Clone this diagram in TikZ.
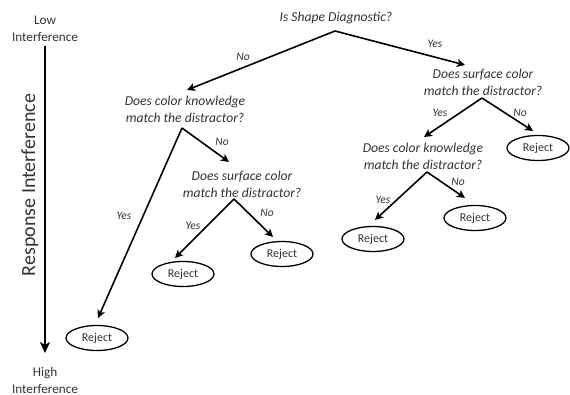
\documentclass[tikz,border=0pt]{standalone}
\usepackage{fontspec}
\setmainfont{Carlito}
\usetikzlibrary{arrows.meta,shapes.geometric}
\begin{document}
\begin{tikzpicture}[x=1pt,y=-1pt,
  q/.style={font=\fontsize{13.6}{17}\selectfont\itshape, align=center, inner sep=0pt, text=black!80},
  lbl/.style={font=\fontsize{11.5}{13}\selectfont\itshape, inner sep=0pt, text=black!80},
  rej/.style={draw, ellipse, line width=1.3pt, minimum width=62pt, minimum height=25pt, inner sep=0pt, font=\fontsize{12}{14}\selectfont, text=black!80},
  side/.style={font=\fontsize{13.2}{17}\selectfont, align=center, inner sep=0pt, text=black!80},
  arr/.style={line width=1.6pt, -{Stealth[length=8pt,width=8pt,inset=2pt]}}]
\useasboundingbox (0,0) rectangle (570,395);

% side scale
\node[side] (low) at (45,29) {Low\\Interference};
\node[side] (high) at (45,380) {High\\Interference};
\coordinate (axTop) at (45,46);
\coordinate (axBot) at (45,353);
\draw[line width=2.6pt, -{Stealth[length=11pt,width=10pt,inset=3pt]}] (axTop) -- (axBot);
\node[rotate=90, font=\fontsize{20}{22}\selectfont, inner sep=0pt, text=black!80] (resp) at (30,185) {Response Interference};

% root
\node[q] (root) at (336,18) {Is Shape Diagnostic?};
\coordinate (aRoot) at (335,31);

% right branch
\node[q] (qR) at (483,82) {Does surface color\\match the distractor?};
\coordinate (tR) at (465,65);
\coordinate (aR) at (482,98);
\draw[arr] (aRoot) -- (tR);
\node[lbl] at (435,44) {Yes};

\node[q] (qRL) at (423,156) {Does color knowledge\\match the distractor?};
\coordinate (tRL) at (424,137);
\coordinate (tRR) at (533,131);
\node[rej] (rR) at (538,148) {Reject};
\draw[arr] (aR) -- (tRL);
\draw[arr] (aR) -- (tRR);
\node[lbl] at (440,113) {Yes};
\node[lbl] at (520,113) {No};

\coordinate (aRL) at (427,172);
\coordinate (tRLY) at (375,220);
\coordinate (tRLN) at (465,198);
\node[rej] (rRLY) at (373,239) {Reject};
\node[rej] (rRLN) at (475,218) {Reject};
\draw[arr] (aRL) -- (tRLY);
\draw[arr] (aRL) -- (tRLN);
\node[lbl] at (383,200) {Yes};
\node[lbl] at (458,182) {No};

% left branch
\node[q] (qL) at (185,109) {Does color knowledge\\match the distractor?};
\coordinate (tL) at (187,90);
\draw[arr] (aRoot) -- (tL);
\node[lbl] at (243,57) {No};

\coordinate (aL) at (182,128);
\coordinate (tLY) at (98,318);
\coordinate (tLN) at (229,162);
\node[rej] (rLY) at (97,338) {Reject};
\draw[arr] (aL) -- (tLY);
\draw[arr] (aL) -- (tLN);
\node[lbl] at (124,216) {Yes};
\node[lbl] at (222,142) {No};

\node[q] (qLN) at (242,184) {Does surface color\\match the distractor?};
\coordinate (aLN) at (234,199);
\coordinate (tLNY) at (175,258);
\coordinate (tLNN) at (273,237);
\node[rej] (rLNY) at (183,274) {Reject};
\node[rej] (rLNN) at (282,254) {Reject};
\draw[arr] (aLN) -- (tLNY);
\draw[arr] (aLN) -- (tLNN);
\node[lbl] at (193,226) {Yes};
\node[lbl] at (267,213) {No};
\end{tikzpicture}
\end{document}
